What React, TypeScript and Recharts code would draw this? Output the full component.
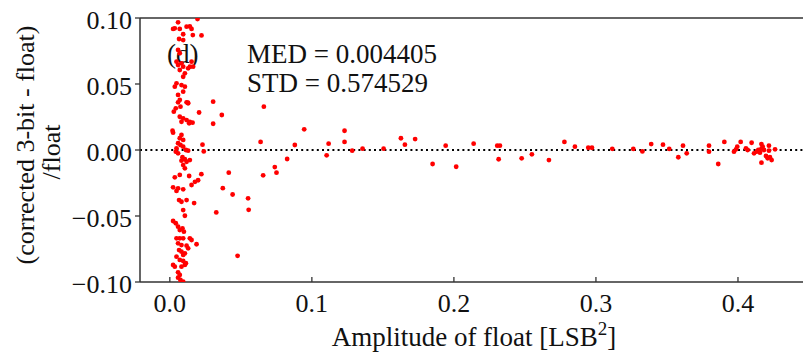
import React from 'react';
import { ScatterChart, Scatter, XAxis, YAxis, ReferenceLine, Customized } from 'recharts';

const FONT = '"Liberation Serif", "Times New Roman", "DejaVu Serif", serif';

const xTicks = [0, 0.1, 0.2, 0.3, 0.4];
const xTickLabels = ['0.0', '0.1', '0.2', '0.3', '0.4'];
const yTicks = [-0.1, -0.05, 0, 0.05, 0.1];
const yTickLabels = ['\u22120.10', '\u22120.05', '0.00', '0.05', '0.10'];

// dense cluster at very small amplitude
const clusterAmp = [
  0.0058, 0.0035, 0.0023, 0.0070, 0.0118, 0.0153, 0.0094, 0.0065, 0.0094, 0.0058,
  0.0070, 0.0047, 0.0058, 0.0082, 0.0094, 0.0070, 0.0129, 0.0164, 0.0106, 0.0094,
  0.0047, 0.0035, 0.0082, 0.0106, 0.0094, 0.0058, 0.0070, 0.0118, 0.0058,
  0.0075, 0.0042, 0.0028, 0.0129, 0.0070, 0.0094, 0.0082, 0.0118, 0.0136, 0.0160,
  0.0019, 0.0023, 0.0082, 0.0070, 0.0094, 0.0058, 0.0075, 0.0094, 0.0047, 0.0113,
  0.0129, 0.0042, 0.0058, 0.0089, 0.0106, 0.0118, 0.0082, 0.0094, 0.0106, 0.0070,
  0.0035, 0.0136, 0.0023, 0.0058, 0.0094,
  0.0047, 0.0065, 0.0082, 0.0118, 0.0094, 0.0106, 0.0023, 0.0042, 0.0058, 0.0070,
  0.0089, 0.0099, 0.0047, 0.0070, 0.0094, 0.0141, 0.0153, 0.0058, 0.0082, 0.0118,
  0.0129, 0.0065, 0.0082, 0.0106, 0.0094, 0.0047, 0.0070, 0.0094, 0.0113, 0.0023,
  0.0035, 0.0082, 0.0106, 0.0058, 0.0070, 0.0058, 0.0075, 0.0094,
];
const clusterRatio = [
  0.0967, 0.0922, 0.0917, 0.0917, 0.0934, 0.0917, 0.0877, 0.0841, 0.0833, 0.0758,
  0.0733, 0.0669, 0.0644, 0.0657, 0.0631, 0.0606, 0.0619, 0.0631, 0.0581, 0.0555,
  0.0505, 0.0480, 0.0492, 0.0480, 0.0442, 0.0417, 0.0379, 0.0361, 0.0361,
  0.0328, 0.0316, 0.0290, 0.0354, 0.0252, 0.0240, 0.0214, 0.0227, 0.0202, 0.0207,
  0.0146, 0.0131, 0.0114, 0.0089, 0.0076, 0.0051, 0.0038, 0.0025, 0.0013, 0.0000,
  -0.0005, -0.0013, -0.0025, -0.0055, -0.0070, -0.0089, -0.0081, -0.0114, -0.0139, -0.0189,
  -0.0207, -0.0197, -0.0283, -0.0290, -0.0298,
  -0.0310, -0.0379, -0.0392, -0.0379, -0.0455, -0.0498, -0.0538, -0.0555, -0.0581, -0.0606,
  -0.0593, -0.0619, -0.0669, -0.0669, -0.0669, -0.0669, -0.0682, -0.0707, -0.0720, -0.0725,
  -0.0745, -0.0758, -0.0770, -0.0783, -0.0795, -0.0808, -0.0833, -0.0841, -0.0858, -0.0871,
  -0.0884, -0.0884, -0.0871, -0.0927, -0.0947, -0.0967, -0.0985, -0.0998,
];

// scattered points at small amplitude
const spreadAmp = [
  0.0195, 0.0223, 0.0141, 0.0162, 0.0153, 0.0141, 0.0305, 0.0206, 0.0366, 0.0305,
  0.0662, 0.0127, 0.0141, 0.0230, 0.0239, 0.0639, 0.0880, 0.0826, 0.0739, 0.0751,
  0.0657, 0.0415, 0.0222, 0.0199, 0.0177, 0.0153, 0.0373, 0.0442, 0.0551, 0.0555,
  0.0327, 0.0171, 0.0188, 0.0477, 0.0141,
];
const spreadRatio = [
  0.0992, 0.0868, 0.0936, 0.0871, 0.0669, 0.0631, 0.0366, 0.0284, 0.0265, 0.0199,
  0.0328, 0.0358, 0.0212, 0.0040, -0.0011, 0.0061, 0.0038, -0.0068, -0.0129, -0.0172,
  -0.0192, -0.0172, -0.0183, -0.0229, -0.0241, -0.0265, -0.0289, -0.0337, -0.0366, -0.0453,
  -0.0473, -0.0402, -0.0714, -0.0802, -0.0076,
];

// larger amplitudes, close to zero
const tailAmp = [
  0.0946, 0.1104, 0.1118, 0.1230, 0.1230, 0.1284, 0.1357, 0.1505, 0.1627, 0.1655,
  0.1727, 0.1850, 0.1942, 0.2016, 0.2139, 0.2305, 0.2324, 0.2315, 0.2477, 0.2549,
  0.2669, 0.2778, 0.2852, 0.2946, 0.2972, 0.3115, 0.3263, 0.3327, 0.3389, 0.3472,
  0.3516, 0.3580, 0.3613, 0.3639, 0.3796, 0.3796, 0.3861, 0.3904, 0.3972, 0.3986,
  0.3995, 0.4019, 0.4056, 0.4068, 0.4096, 0.4113, 0.4132, 0.4143, 0.4155, 0.4165,
  0.4174, 0.4165, 0.4183, 0.4165, 0.4197, 0.4209, 0.4237, 0.4225, 0.4218, 0.4218,
  0.4261,
];
const tailRatio = [
  0.0157, -0.0040, 0.0048, 0.0146, 0.0061, -0.0005, 0.0010, 0.0010, 0.0089, 0.0040,
  0.0083, -0.0106, 0.0033, -0.0127, 0.0048, 0.0033, 0.0033, -0.0070, -0.0063, -0.0033,
  -0.0076, 0.0061, 0.0025, 0.0017, 0.0017, 0.0009, 0.0008, -0.0011, 0.0045, 0.0040,
  0.0008, -0.0055, 0.0033, -0.0025, 0.0033, -0.0013, -0.0106, 0.0061, -0.0013, 0.0005,
  0.0025, 0.0061, 0.0013, 0.0000, 0.0055, -0.0025, -0.0013, 0.0000, -0.0020, 0.0045,
  0.0025, 0.0010, 0.0000, -0.0096, -0.0045, -0.0063, -0.0076, -0.0055, 0.0033, -0.0005,
  0.0005,
];

const zip = (xs: number[], ys: number[]) => xs.map((x, i) => ({ x, y: ys[i] }));
const points = [
  ...zip(clusterAmp, clusterRatio),
  ...zip(spreadAmp, spreadRatio),
  ...zip(tailAmp, tailRatio),
];

const AXIS = '#333333';

const XTick = (props: any) => {
  const { x, y, payload } = props;
  const label = xTickLabels[xTicks.indexOf(payload.value)];
  return (
    <g>
      <line x1={x} x2={x} y1={y - 12} y2={y - 17} stroke={AXIS} strokeWidth={1.3} />
      <text x={x} y={y + 18} textAnchor="middle" fontSize={26} fontFamily={FONT} fill="#111">
        {label}
      </text>
    </g>
  );
};

const YTick = (props: any) => {
  const { x, y, payload } = props;
  const label = yTickLabels[yTicks.indexOf(payload.value)];
  return (
    <text x={x} y={y + 11} textAnchor="end" fontSize={26} fontFamily={FONT} fill="#111">
      {label}
    </text>
  );
};

const Dot = (props: any) => {
  const { cx, cy } = props;
  if (cx == null || cy == null) return null;
  return <circle cx={cx} cy={cy} r={2.4} fill="#ff0000" />;
};

const Texts = () => (
  <g fontFamily={FONT} fill="#111">
    <text x={167} y={63} fontSize={27}>(d)</text>
    <text x={247} y={63} fontSize={27}>MED = 0.004405</text>
    <text x={247} y={92} fontSize={27}>STD = 0.574529</text>
    <text transform="translate(34,145) rotate(-90)" textAnchor="middle" fontSize={26}>
      (corrected 3-bit - float)
    </text>
    <text transform="translate(60,152) rotate(-90)" textAnchor="middle" fontSize={26}>
      /float
    </text>
    <text x={474} y={346} textAnchor="middle" fontSize={27}>
      Amplitude of float [LSB
      <tspan fontSize={19} dy={-11}>2</tspan>
      <tspan dy={11}>]</tspan>
    </text>
  </g>
);

export default function App() {
  return (
    <div
      style={{
        position: 'absolute',
        left: 0,
        top: 0,
        width: 803,
        height: 356,
        overflow: 'hidden',
        background: '#fff',
      }}
    >
      <ScatterChart
        width={809}
        height={356}
        margin={{ top: 18, right: 0, bottom: 0, left: 0 }}
      >
        <XAxis
          type="number"
          dataKey="x"
          domain={[-0.021, 0.45]}
          ticks={xTicks}
          allowDataOverflow
          height={74}
          tickSize={0}
          tickMargin={12}
          tickLine={false}
          tick={<XTick />}
          axisLine={{ stroke: AXIS, strokeWidth: 1.5 }}
        />
        <YAxis
          type="number"
          dataKey="y"
          domain={[-0.1, 0.1]}
          ticks={yTicks}
          allowDataOverflow
          width={140}
          tickSize={5}
          tickMargin={3}
          tickLine={{ stroke: AXIS, strokeWidth: 1.3 }}
          tick={<YTick />}
          axisLine={{ stroke: AXIS, strokeWidth: 1.5 }}
        />
        <ReferenceLine y={0.1} stroke={AXIS} strokeWidth={1.5} />
        <ReferenceLine y={0} stroke="#000" strokeWidth={2} strokeDasharray="2 3.2" />
        <Scatter data={points} shape={<Dot />} isAnimationActive={false} />
        <Customized component={Texts} />
      </ScatterChart>
    </div>
  );
}
